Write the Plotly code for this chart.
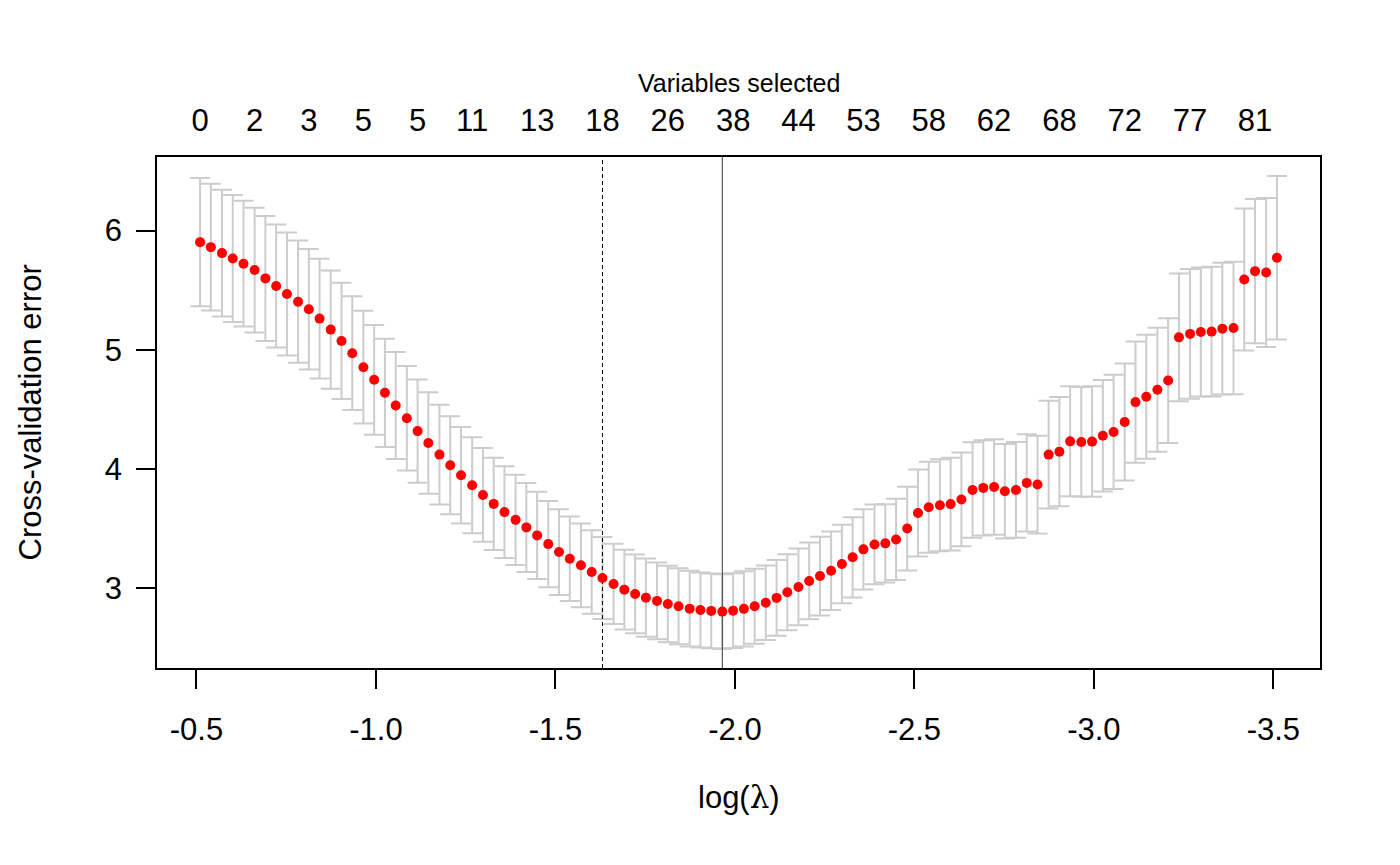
import plotly.graph_objects as go

# ---------------- data ----------------
log_lambda = [
    -0.510, -0.540, -0.571, -0.601, -0.631, -0.662, -0.692, -0.722, -0.752, -0.783,
    -0.813, -0.843, -0.874, -0.904, -0.934, -0.965, -0.995, -1.025, -1.055, -1.086,
    -1.116, -1.146, -1.177, -1.207, -1.237, -1.268, -1.298, -1.328, -1.358, -1.389,
    -1.419, -1.449, -1.480, -1.510, -1.540, -1.571, -1.601, -1.631, -1.662, -1.692,
    -1.722, -1.752, -1.783, -1.813, -1.843, -1.874, -1.904, -1.934, -1.965, -1.995,
    -2.025, -2.055, -2.086, -2.116, -2.146, -2.177, -2.207, -2.237, -2.268, -2.298,
    -2.328, -2.358, -2.389, -2.419, -2.449, -2.480, -2.510, -2.540, -2.571, -2.601,
    -2.631, -2.662, -2.692, -2.722, -2.752, -2.783, -2.813, -2.843, -2.874, -2.904,
    -2.934, -2.965, -2.995, -3.025, -3.055, -3.086, -3.116, -3.146, -3.177, -3.207,
    -3.237, -3.268, -3.298, -3.328, -3.358, -3.389, -3.419, -3.449, -3.480, -3.510,
]

cv_error = [
    5.903, 5.861, 5.811, 5.766, 5.722, 5.669, 5.599, 5.535, 5.468, 5.404,
    5.340, 5.262, 5.170, 5.075, 4.972, 4.855, 4.749, 4.640, 4.534, 4.427,
    4.319, 4.219, 4.122, 4.033, 3.949, 3.865, 3.784, 3.709, 3.640, 3.575,
    3.512, 3.445, 3.372, 3.305, 3.249, 3.194, 3.138, 3.088, 3.038, 2.990,
    2.954, 2.923, 2.896, 2.870, 2.851, 2.831, 2.819, 2.812, 2.806, 2.814,
    2.829, 2.851, 2.881, 2.921, 2.968, 3.013, 3.063, 3.104, 3.149, 3.205,
    3.261, 3.328, 3.369, 3.378, 3.411, 3.502, 3.632, 3.681, 3.697, 3.707,
    3.746, 3.826, 3.843, 3.851, 3.815, 3.826, 3.885, 3.871, 4.122, 4.147,
    4.233, 4.228, 4.231, 4.280, 4.312, 4.395, 4.562, 4.607, 4.665, 4.743,
    5.105, 5.134, 5.150, 5.153, 5.178, 5.184, 5.590, 5.660, 5.649, 5.772,
]

cv_se = [
    0.537, 0.532, 0.532, 0.533, 0.527, 0.523, 0.524, 0.515, 0.515, 0.513,
    0.505, 0.502, 0.496, 0.487, 0.477, 0.472, 0.460, 0.454, 0.449, 0.438,
    0.432, 0.426, 0.418, 0.410, 0.404, 0.402, 0.393, 0.387, 0.385, 0.379,
    0.373, 0.365, 0.362, 0.360, 0.354, 0.351, 0.349, 0.343, 0.336, 0.334,
    0.330, 0.328, 0.322, 0.320, 0.319, 0.317, 0.314, 0.314, 0.314, 0.314,
    0.315, 0.314, 0.312, 0.318, 0.318, 0.321, 0.322, 0.330, 0.329, 0.329,
    0.337, 0.337, 0.334, 0.327, 0.341, 0.351, 0.365, 0.381, 0.386, 0.388,
    0.393, 0.400, 0.400, 0.400, 0.396, 0.401, 0.407, 0.410, 0.452, 0.458,
    0.461, 0.460, 0.463, 0.468, 0.479, 0.490, 0.508, 0.520, 0.520, 0.523,
    0.535, 0.543, 0.541, 0.543, 0.553, 0.555, 0.596, 0.605, 0.624, 0.686,
]

# number of selected variables shown on the top axis (index into lambda grid)
nz_index = [0, 5, 10, 15, 20, 25, 31, 37, 43, 49, 55, 61, 67, 73, 79, 85, 91, 97]
nz_labels = ["0", "2", "3", "5", "5", "11", "13", "18", "26", "38",
             "44", "53", "58", "62", "68", "72", "77", "81"]

x_tick_vals = [-0.5, -1.0, -1.5, -2.0, -2.5, -3.0, -3.5]
x_tick_text = ["-0.5", "-1.0", "-1.5", "-2.0", "-2.5", "-3.0", "-3.5"]
y_tick_vals = [3, 4, 5, 6]
y_tick_text = ["3", "4", "5", "6"]

# ---------------- derived ----------------
lower = [m - s for m, s in zip(cv_error, cv_se)]
upper = [m + s for m, s in zip(cv_error, cv_se)]
i_min = min(range(len(cv_error)), key=lambda i: cv_error[i])
thresh = cv_error[i_min] + cv_se[i_min]
i_1se = min(i for i in range(len(cv_error)) if cv_error[i] <= thresh)

def padded(lo, hi, f=0.04):
    d = (hi - lo) * f
    return lo - d, hi + d

x_lo, x_hi = padded(min(log_lambda), max(log_lambda))
y_lo, y_hi = padded(min(lower), max(upper))
x_range = [x_hi, x_lo]  # reversed: -0.39 on the left
y_range = [y_lo, y_hi]

FONT = "Liberation Sans, Arial, Helvetica, sans-serif"
TICK_SIZE = 31

fig = go.Figure()

# error bars
fig.add_trace(go.Scatter(
    x=log_lambda, y=cv_error, mode="markers",
    marker=dict(size=1, color="rgba(0,0,0,0)"),
    error_y=dict(type="data", array=cv_se, visible=True,
                 color="#cccccc", thickness=2, width=10),
    hoverinfo="skip", showlegend=False,
))

# vertical reference lines
fig.add_trace(go.Scatter(
    x=[log_lambda[i_1se]] * 2, y=y_range, mode="lines",
    line=dict(color="black", width=1, dash="4px,3px"),
    hoverinfo="skip", showlegend=False,
))
fig.add_trace(go.Scatter(
    x=[log_lambda[i_min]] * 2, y=y_range, mode="lines",
    line=dict(color="#555555", width=1.2),
    hoverinfo="skip", showlegend=False,
))

# CV error points
fig.add_trace(go.Scatter(
    x=log_lambda, y=cv_error, mode="markers",
    marker=dict(size=10, color="#ff0000", line=dict(width=0)),
    showlegend=False,
))

# invisible trace for top axis
fig.add_trace(go.Scatter(
    x=[log_lambda[i] for i in nz_index], y=[cv_error[i] for i in nz_index],
    xaxis="x2", mode="markers", marker=dict(size=1, color="rgba(0,0,0,0)"),
    hoverinfo="skip", showlegend=False,
))

fig.update_layout(
    width=1400, height=865,
    margin=dict(l=157, r=80, t=157, b=197),
    paper_bgcolor="white", plot_bgcolor="white",
    font=dict(family=FONT, color="black", size=TICK_SIZE),
    xaxis=dict(
        range=x_range, tickmode="array", tickvals=x_tick_vals, ticktext=x_tick_text,
        ticks="outside", ticklen=19, tickwidth=1.5, tickcolor="black",
        showline=True, linecolor="black", linewidth=1.5, mirror=True,
        showgrid=False, zeroline=False, ticklabelstandoff=14,
        tickfont=dict(size=TICK_SIZE),
    ),
    xaxis2=dict(
        range=x_range, overlaying="x", side="top", anchor="y",
        tickmode="array", tickvals=[log_lambda[i] for i in nz_index], ticktext=nz_labels,
        ticks="", showline=False, showgrid=False, zeroline=False,
        ticklabelstandoff=19, tickfont=dict(size=TICK_SIZE),
    ),
    yaxis=dict(
        range=y_range, tickmode="array", tickvals=y_tick_vals, ticktext=y_tick_text,
        ticks="outside", ticklen=19, tickwidth=1.5, tickcolor="black",
        showline=True, linecolor="black", linewidth=1.5, mirror=True,
        showgrid=False, zeroline=False, ticklabelstandoff=8,
        tickfont=dict(size=TICK_SIZE),
    ),
    annotations=[
        dict(text="Variables selected", xref="paper", yref="paper", x=0.5, y=1,
             yshift=74, showarrow=False, xanchor="center", yanchor="middle",
             font=dict(size=25)),
        dict(text="log(<span style='font-family:DejaVu Serif, serif'>λ</span>)",
             xref="paper", yref="paper", x=0.5, y=0, yshift=-129, showarrow=False,
             xanchor="center", yanchor="middle", font=dict(size=TICK_SIZE)),
        dict(text="Cross-validation error", xref="paper", yref="paper", x=0, y=0.5,
             xshift=-127, textangle=-90, showarrow=False,
             xanchor="center", yanchor="middle", font=dict(size=TICK_SIZE)),
    ],
)

fig.write_html("out.html")
